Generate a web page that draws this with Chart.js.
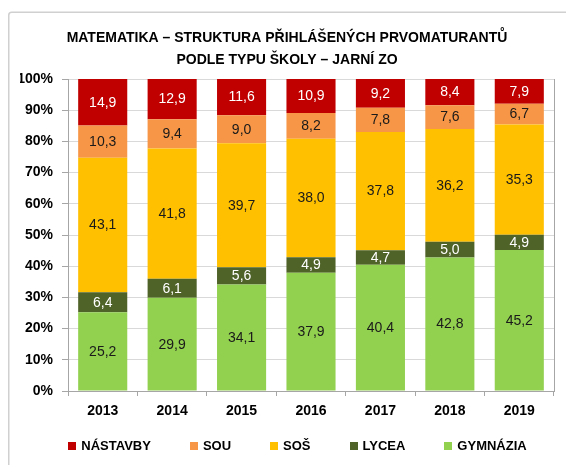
<!DOCTYPE html>
<html><head><meta charset="utf-8">
<script src="https://cdn.jsdelivr.net/npm/chart.js@4"></script>
<style>html,body{margin:0;padding:0;background:#fff;overflow:hidden;}canvas{display:block;}</style>
</head><body>
<canvas id="c" width="566" height="465"></canvas>
<script>
const years = ['2013','2014','2015','2016','2017','2018','2019'];
const gymnazia = [25.2,29.9,34.1,37.9,40.4,42.8,45.2];
const lycea    = [6.4,6.1,5.6,4.9,4.7,5.0,4.9];
const sos      = [43.1,41.8,39.7,38.0,37.8,36.2,35.3];
const sou      = [10.3,9.4,9.0,8.2,7.8,7.6,6.7];
const nastavby = [14.9,12.9,11.6,10.9,9.2,8.4,7.9];
const seriesNames = ['GYMNÁZIA','LYCEA','SOŠ','SOU','NÁSTAVBY'];
const titleLines = ['MATEMATIKA – STRUKTURA PŘIHLÁŠENÝCH PRVOMATURANTŮ','PODLE TYPU ŠKOLY – JARNÍ ZO'];

const FONT = '"Liberation Sans", Arial, sans-serif';
const raw = [gymnazia, lycea, sos, sou, nastavby];
const colors = ['#92D050','#4F6228','#FFC000','#F79646','#C00000'];
const labelColors = ['#1a1a1a','#ffffff','#1a1a1a','#1a1a1a','#ffffff'];
const totals = years.map((_, i) => raw.reduce((s, a) => s + a[i], 0));

const datasets = raw.map((arr, k) => ({
  label: seriesNames[k],
  data: arr.map((v, i) => v / totals[i] * 100),
  rawValues: arr,
  backgroundColor: colors[k],
  borderWidth: 0,
  barPercentage: 0.707,
  categoryPercentage: 1.0
}));

const frame = {
  id: 'frame',
  beforeDraw(chart) {
    const ctx = chart.ctx;
    ctx.save();
    ctx.fillStyle = '#fff';
    ctx.fillRect(0, 0, chart.width, chart.height);
    ctx.strokeStyle = '#d0d0d0';
    ctx.lineWidth = 1.5;
    ctx.beginPath();
    ctx.roundRect(8.75, 12.25, 700, 600, 3);
    ctx.stroke();
    ctx.restore();
  },
  afterDatasetsDraw(chart) {
    const ctx = chart.ctx;
    const a = chart.chartArea;
    ctx.save();
    // right plot border
    ctx.strokeStyle = '#a6a6a6';
    ctx.lineWidth = 1;
    ctx.beginPath();
    ctx.moveTo(Math.round(a.right) + 0.5, a.top);
    ctx.lineTo(Math.round(a.right) + 0.5, a.bottom);
    ctx.stroke();
    // data labels
    ctx.font = '14px ' + FONT;
    ctx.textAlign = 'center';
    ctx.textBaseline = 'middle';
    chart.data.datasets.forEach((ds, k) => {
      const meta = chart.getDatasetMeta(k);
      meta.data.forEach((bar, i) => {
        const v = ds.rawValues[i];
        ctx.fillStyle = labelColors[k];
        ctx.fillText(v.toFixed(1).replace('.', ','), bar.x, (bar.y + bar.base) / 2 + 0.5);
      });
    });
    ctx.restore();
  },
  afterDraw(chart) {
    const ctx = chart.ctx;
    ctx.save();
    ctx.font = 'bold 13px ' + FONT;
    ctx.textBaseline = 'middle';
    ctx.textAlign = 'left';
    const items = chart.data.datasets.map((ds) => ({ text: ds.label, color: ds.backgroundColor })).reverse();
    const box = 8, gap = 5, spacing = 39;
    const widths = items.map(it => box + gap + ctx.measureText(it.text).width);
    const total = widths.reduce((s, w) => s + w, 0) + spacing * (items.length - 1);
    let x = 297.5 - total / 2;
    const y = 446;
    items.forEach((it, i) => {
      ctx.fillStyle = it.color;
      ctx.fillRect(Math.round(x), y - 4, box, box);
      ctx.fillStyle = '#000';
      ctx.fillText(it.text, x + box + gap, y + 0.5);
      x += widths[i] + spacing;
    });
    ctx.restore();
  }
};

new Chart(document.getElementById('c'), {
  type: 'bar',
  data: { labels: years, datasets },
  options: {
    responsive: false,
    animation: false,
    devicePixelRatio: 1,
    layout: { padding: { left: 20, right: 12, top: 12, bottom: 44 } },
    plugins: {
      legend: { display: false },
      tooltip: { enabled: false },
      title: {
        display: true,
        text: titleLines,
        color: '#000',
        font: { family: FONT, size: 14, weight: 'bold', lineHeight: 22 / 14 },
        padding: { top: 15, bottom: 8 }
      }
    },
    scales: {
      x: {
        stacked: true,
        grid: { display: true, drawOnChartArea: false, drawTicks: true, tickLength: 5, tickColor: '#a6a6a6', offset: true },
        border: { display: true, color: '#a6a6a6', width: 1 },
        ticks: { color: '#000', font: { family: FONT, size: 14, weight: 'bold' }, padding: 7, maxRotation: 0 },
        afterFit(scale) { scale.height = 30; }
      },
      y: {
        stacked: true,
        min: 0, max: 100,
        grid: {
          color: (c) => (c.tick && c.tick.value === 0 ? '#a6a6a6' : '#d9d9d9'),
          tickColor: '#a6a6a6', tickLength: 6, drawTicks: true
        },
        border: { display: true, color: '#a6a6a6', width: 1 },
        ticks: {
          stepSize: 10, color: '#000', padding: 9,
          font: { family: FONT, size: 14, weight: 'bold' },
          callback: (v) => v + '%'
        },
        afterFit(scale) { scale.width = 48; }
      }
    }
  },
  plugins: [frame]
});
</script>
</body></html>
